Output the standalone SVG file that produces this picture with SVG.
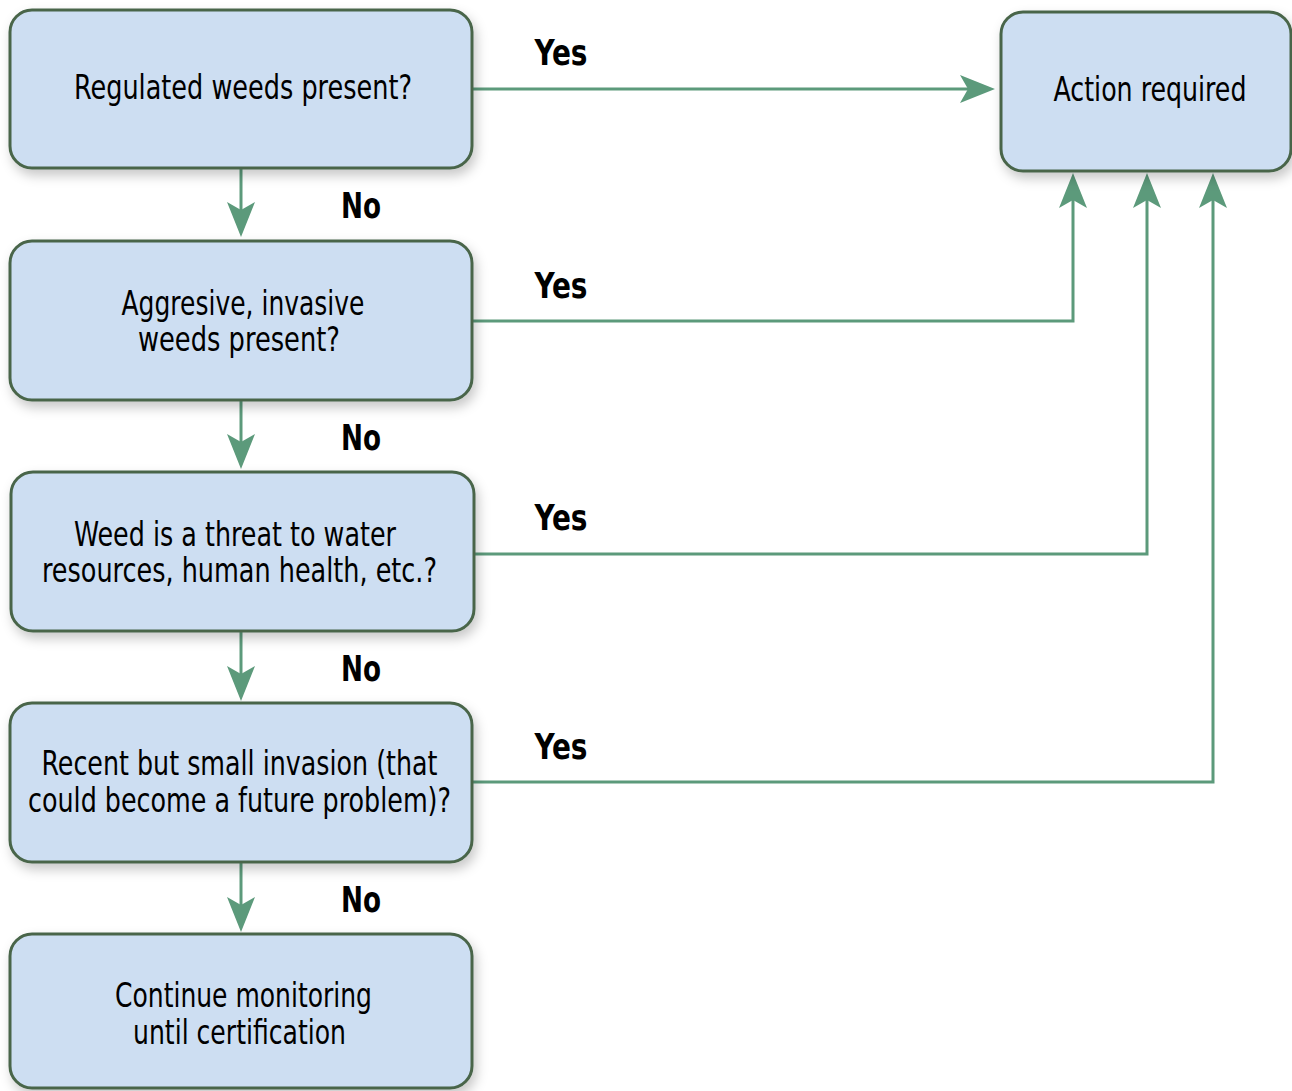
<svg xmlns="http://www.w3.org/2000/svg" width="1292" height="1091" viewBox="0 0 1292 1091">
<style>
.box{fill:#cddef2;stroke:#48654a;stroke-width:3;filter:url(#sh)}
.t{font-family:"Liberation Sans Narrow","Arial Narrow","DejaVu Sans Condensed","Liberation Sans",sans-serif;font-size:33px;fill:#000;text-anchor:middle}
.lb{font-family:"Liberation Sans Narrow","Arial Narrow","DejaVu Sans Condensed","Liberation Sans",sans-serif;font-size:36px;font-weight:bold;fill:#000;text-anchor:middle}
.c{fill:none;stroke:#5c9a7b;stroke-width:3;marker-end:url(#ah)}
</style>
<defs>
<filter id="sh" x="-10%" y="-15%" width="125%" height="140%">
<feDropShadow dx="3" dy="6" stdDeviation="6" flood-color="#000" flood-opacity="0.22"/>
</filter>
<marker id="ah" markerUnits="userSpaceOnUse" viewBox="0 0 35 28" markerWidth="35" markerHeight="28" refX="10" refY="14" orient="auto">
<path d="M0,0 L35,14 L0,28 L8,14 Z" fill="#5c9a7b"/>
</marker>
</defs>
<g id="connectors">
<path class="c" d="M241,168 V212"/>
<path class="c" d="M241,400 V444"/>
<path class="c" d="M241,631 V676"/>
<path class="c" d="M241,862 V907"/>
<path class="c" d="M472,89 H970"/>
<path class="c" d="M472,321 H1073 V198"/>
<path class="c" d="M474,554 H1147 V198"/>
<path class="c" d="M472,782 H1213 V198"/>
</g>
<g id="labels">
<text class="lb" x="561" y="65" textLength="53" lengthAdjust="spacingAndGlyphs">Yes</text>
<text class="lb" x="561" y="298" textLength="53" lengthAdjust="spacingAndGlyphs">Yes</text>
<text class="lb" x="561" y="530" textLength="53" lengthAdjust="spacingAndGlyphs">Yes</text>
<text class="lb" x="561" y="759" textLength="53" lengthAdjust="spacingAndGlyphs">Yes</text>
<text class="lb" x="361" y="218" textLength="40" lengthAdjust="spacingAndGlyphs">No</text>
<text class="lb" x="361" y="450" textLength="40" lengthAdjust="spacingAndGlyphs">No</text>
<text class="lb" x="361" y="681" textLength="40" lengthAdjust="spacingAndGlyphs">No</text>
<text class="lb" x="361" y="912" textLength="40" lengthAdjust="spacingAndGlyphs">No</text>
</g>
<g id="n1">
<rect class="box" x="10" y="10" width="462" height="158" rx="22"/>
<text class="t" x="243" y="99" textLength="338" lengthAdjust="spacingAndGlyphs">Regulated weeds present?</text>
</g>
<g id="n2">
<rect class="box" x="10" y="241" width="462" height="159" rx="22"/>
<text class="t" x="243" y="315" textLength="243" lengthAdjust="spacingAndGlyphs">Aggresive, invasive</text>
<text class="t" x="239" y="351" textLength="202" lengthAdjust="spacingAndGlyphs">weeds present?</text>
</g>
<g id="n3">
<rect class="box" x="11" y="472" width="463" height="159" rx="22"/>
<text class="t" x="235" y="546" textLength="322" lengthAdjust="spacingAndGlyphs">Weed is a threat to water</text>
<text class="t" x="239.5" y="582" textLength="395" lengthAdjust="spacingAndGlyphs">resources, human health, etc.?</text>
</g>
<g id="n4">
<rect class="box" x="10" y="703" width="462" height="159" rx="22"/>
<text class="t" x="239.5" y="775" textLength="396" lengthAdjust="spacingAndGlyphs">Recent but small invasion (that</text>
<text class="t" x="239.5" y="812" textLength="423" lengthAdjust="spacingAndGlyphs">could become a future problem)?</text>
</g>
<g id="n5">
<rect class="box" x="10" y="934" width="462" height="154" rx="22"/>
<text class="t" x="243.5" y="1007" textLength="257" lengthAdjust="spacingAndGlyphs">Continue monitoring</text>
<text class="t" x="239.5" y="1044" textLength="213" lengthAdjust="spacingAndGlyphs">until certification</text>
</g>
<g id="action">
<rect class="box" x="1001" y="12" width="290" height="159" rx="22"/>
<text class="t" x="1150" y="101" textLength="193" lengthAdjust="spacingAndGlyphs">Action required</text>
</g>
</svg>
